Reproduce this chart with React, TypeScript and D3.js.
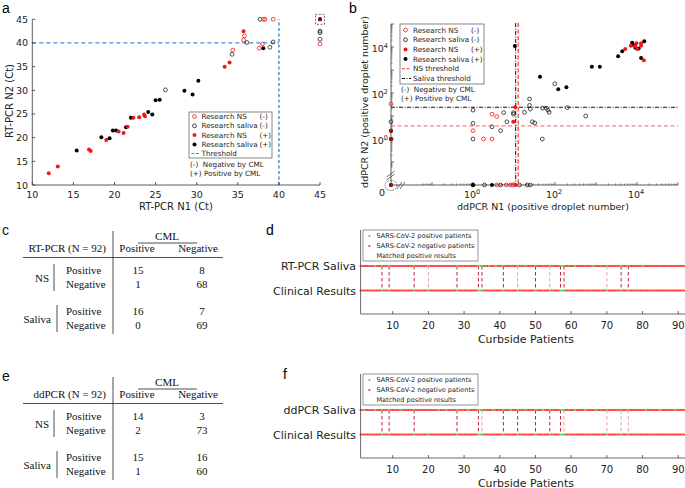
import React from 'react';
import * as d3 from 'd3';

const SANS = "'DejaVu Sans', Verdana, sans-serif";
const ARIAL = "'Liberation Sans', Arial, sans-serif";
const SERIF = "'Liberation Serif', 'Times New Roman', serif";
const RED = '#f01818';
const BLUE = '#4a90d9';

// ---------- Panel a: RT-PCR Ct values [N1, N2] ----------
const rtNsNeg: [number, number][] = [[34.4, 38.5], [35.7, 40.6], [35.8, 41.5], [37.6, 38.9], [38.0, 39.8], [38.1, 45], [38.3, 45], [39.3, 45], [45, 39.8]];
const rtSalNeg: [number, number][] = [[26.2, 30.1], [34.3, 37.6], [36.1, 40.1], [37.7, 45], [38.9, 39.1], [39.3, 40.2], [45, 40.8], [45, 42.2], [45, 42.5]];
const rtNsPos: [number, number][] = [[12.0, 12.5], [13.1, 13.9], [16.9, 17.5], [17.1, 17.2], [19.0, 19.5], [20.5, 21.3], [21.1, 21.0], [21.6, 22.3], [22.3, 24.2], [23.0, 24.3], [23.6, 24.9], [23.7, 24.5], [33.4, 35.0], [34.0, 35.9], [35.7, 42.5], [45, 45]];
const rtSalPos: [number, number][] = [[15.4, 17.3], [18.4, 20.1], [19.4, 19.9], [19.8, 21.5], [20.2, 21.5], [21.4, 22.2], [22.0, 24.2], [24.1, 25.4], [24.6, 24.9], [25.0, 27.9], [25.5, 28.0], [28.5, 29.9], [29.5, 29.1], [30.2, 32.0], [38.1, 38.9], [45, 45]];
const rtTicks = [10, 15, 20, 25, 30, 35, 40, 45];
const rtThreshold = 40;

// ---------- Panel b: ddPCR droplet numbers [N1, N2] (0 = none) ----------
const ddNsNeg: [number, number][] = [[1, 2.3], [1.8, 1], [2.9, 1], [2.9, 12], [3.8, 9.5], [0, 33], [3.8, 0], [6.5, 0], [8.2, 0], [9.4, 0]];
const ddSalNeg: [number, number][] = [[1, 18], [1, 4.8], [1, 1], [2.9, 3.4], [4.7, 2.3], [5.6, 14], [6.7, 5.6], [9.7, 14], [9.7, 12], [18, 14.5], [24, 55], [24, 29], [25, 20], [28, 5.6], [32, 5.0], [49, 1], [50, 22], [61, 22], [67, 18], [72, 14.5], [99, 253], [200, 23], [560, 10], [0, 5.6], [1, 0], [1.9, 0], [4.7, 0], [13.6, 0], [21, 0], [25, 0]];
const ddNsPos: [number, number][] = [[10.7, 24], [9.6, 5.6], [5150, 8180], [7080, 11400], [9100, 11000], [9700, 14500], [10100, 8200], [12600, 11400], [12600, 14500], [14700, 2650], [0, 2.3], [0, 1], [10.9, 0], [0, 0]];
const ddSalPos: [number, number][] = [[10.5, 11000], [43, 510], [120, 145], [190, 177], [790, 1390], [1240, 1390], [3470, 3950], [4360, 6480], [7600, 15400], [8100, 12600], [9100, 9300], [11000, 8700], [15000, 17700], [12600, 3300], [1, 0], [2.9, 0], [0, 2.3], [0, 1], [0, 0]];
const ddNsThreshold = { n1: 12.7, n2: 3.7 };
const ddSalThreshold = { n1: 11, n2: 24 };
const ddLabelExps = [0, 2, 4];

// ---------- Panels c / e: contingency tables ----------
const rtTable = { title: 'RT-PCR (N = 92)', ns: [[15, 8], [1, 68]], saliva: [[16, 7], [0, 69]] };
const ddTable = { title: 'ddPCR (N = 92)', ns: [[14, 3], [2, 73]], saliva: [[15, 16], [1, 60]] };

// ---------- Panels d / f: curbside patients ----------
const clinicalPositive = [7, 9, 16, 20, 28, 34, 35, 41, 45, 50, 54, 57, 58, 70, 74, 76];
const rtSalivaPositive = [5, 7, 9, 16, 20, 28, 34, 35, 37, 39, 41, 45, 47, 50, 54, 57, 58, 61, 66, 70, 74, 76, 80];
const ddSalivaPositive = [2, 5, 7, 9, 12, 16, 23, 25, 28, 31, 34, 35, 38, 41, 43, 45, 47, 50, 52, 54, 57, 58, 61, 64, 67, 70, 74, 76, 81, 85, 89];
const rtLightMatches = [20, 45, 54, 70];
const ddLightMatches = [35, 58, 70, 74, 76];
const patientTicks = [10, 20, 30, 40, 50, 60, 70, 80, 90];
const legendLabels = ['SARS-CoV-2 positive patients', 'SARS-CoV-2 negative patients', 'Matched positive results'];

function OpenDot({ cx, cy, color }: any) {
  return <circle cx={cx} cy={cy} r={1.9} fill="none" stroke={color} strokeWidth={0.8} />;
}
function FillDot({ cx, cy, color }: any) {
  return <circle cx={cx} cy={cy} r={2} fill={color} />;
}

function PanelA() {
  const x = d3.scaleLinear().domain([10, 45]).range([32.3, 320]);
  const y = d3.scaleLinear().domain([10, 45]).range([185, 19.3]);
  const lx = 189, ly = 112;
  const items = [
    { t: 'Research NS', s: '(-)', k: 'on', c: RED },
    { t: 'Research saliva', s: '(-)', k: 'on', c: '#111' },
    { t: 'Research NS', s: '(+)', k: 'f', c: RED },
    { t: 'Research saliva', s: '(+)', k: 'f', c: '#000' },
  ];
  return (
    <g fontFamily={SANS}>
      <text x={2} y={13} fontSize={14} fontFamily={ARIAL}>a</text>
      {/* thresholds */}
      <line x1={x(10)} x2={x(rtThreshold)} y1={y(rtThreshold)} y2={y(rtThreshold)} stroke={BLUE} strokeWidth={1.2} strokeDasharray="4,3" />
      <line x1={x(rtThreshold)} x2={x(rtThreshold)} y1={y(10)} y2={y(45)} stroke={BLUE} strokeWidth={1.5} strokeDasharray="3,2.5" />
      {/* axes */}
      <line x1={x(10)} x2={x(45)} y1={y(10)} y2={y(10)} stroke="#333" strokeWidth={0.8} />
      <line x1={x(10)} x2={x(10)} y1={y(10)} y2={y(45)} stroke="#333" strokeWidth={0.8} />
      {rtTicks.map(t => (
        <g key={'x' + t}>
          <line x1={x(t)} x2={x(t)} y1={y(10)} y2={y(10) - 3} stroke="#333" strokeWidth={0.8} />
          <text x={x(t)} y={198} fontSize={9.5} textAnchor="middle" fill="#222">{t}</text>
          <line x1={x(10)} x2={x(10) + 3} y1={y(t)} y2={y(t)} stroke="#333" strokeWidth={0.8} />
          <text x={28} y={y(t) + 3.5} fontSize={9.5} textAnchor="end" fill="#222">{t}</text>
        </g>
      ))}
      <text x={176} y={210} fontSize={10} textAnchor="middle" fill="#222">RT-PCR N1 (Ct)</text>
      <text transform="translate(13,101) rotate(-90)" fontSize={10} textAnchor="middle" fill="#222">RT-PCR N2 (Ct)</text>
      {/* points */}
      {rtSalNeg.map((p, i) => <OpenDot key={'sn' + i} cx={x(p[0])} cy={y(p[1])} color="#222" />)}
      {rtNsNeg.map((p, i) => <OpenDot key={'nn' + i} cx={x(p[0])} cy={y(p[1])} color={RED} />)}
      {rtSalPos.map((p, i) => <FillDot key={'sp' + i} cx={x(p[0])} cy={y(p[1])} color="#000" />)}
      {rtNsPos.map((p, i) => <FillDot key={'np' + i} cx={x(p[0])} cy={y(p[1])} color={p[0] === 45 ? '#8a0a0a' : RED} />)}
      <rect x={x(45) - 4.5} y={y(45) - 5} width={9} height={10} fill="none" stroke="#333" strokeWidth={0.7} strokeDasharray="2,1.5" />
      {/* legend */}
      <rect x={lx} y={ly} width={83} height={46} fill="#fff" stroke="#555" strokeWidth={0.7} />
      {items.map((it, i) => (
        <g key={i}>
          {it.k === 'on'
            ? <OpenDot cx={lx + 5.5} cy={ly + 4.5 + i * 9.3} color={it.c} />
            : <FillDot cx={lx + 5.5} cy={ly + 4.5 + i * 9.3} color={it.c} />}
          <text x={lx + 12.5} y={ly + 7 + i * 9.3} fontSize={7.2} fill="#222">{it.t}</text>
          <text x={lx + 70.5} y={ly + 7 + i * 9.3} fontSize={7.2} fill="#222">{it.s}</text>
        </g>
      ))}
      <line x1={lx + 2.5} x2={lx + 10.5} y1={ly + 41.5} y2={ly + 41.5} stroke={BLUE} strokeWidth={1} strokeDasharray="3,1.5" />
      <text x={lx + 12.5} y={ly + 44} fontSize={7.2} fill="#222">Threshold</text>
      <text x={lx + 1} y={ly + 55} fontSize={7.2} fill="#222" xmlSpace="preserve">(-)  Negative by CML</text>
      <text x={lx + 1} y={ly + 63.5} fontSize={7.2} fill="#222">(+) Positive by CML</text>
    </g>
  );
}

function PanelB() {
  const x = d3.scaleLog().domain([0.01, 1e5]).range([391, 678]);
  const y = d3.scaleLog().domain([0.01, 1e5]).range([185, 24]);
  const v = (n: number) => (n <= 0 ? 0.01 : n);
  const majors = d3.range(-2, 6).map(e => Math.pow(10, e));
  const minors: number[] = [];
  d3.range(-2, 5).forEach(e => d3.range(2, 10).forEach(m => minors.push(m * Math.pow(10, e))));
  const lx = 400, ly = 24;
  const items = [
    { t: 'Research NS', s: '(-)', k: 'on', c: RED },
    { t: 'Research saliva', s: '(-)', k: 'on', c: '#111' },
    { t: 'Research NS', s: '(+)', k: 'f', c: RED },
    { t: 'Research saliva', s: '(+)', k: 'f', c: '#000' },
  ];
  const x0 = x(0.01), y0 = y(0.01);
  return (
    <g fontFamily={SANS}>
      <text x={349} y={13} fontSize={14} fontFamily={ARIAL}>b</text>
      {/* thresholds */}
      <line x1={x(ddNsThreshold.n1)} x2={x(ddNsThreshold.n1)} y1={23} y2={y0} stroke="#ff5a5a" strokeWidth={1.5} strokeDasharray="4,2.5" />
      <line x1={x0} x2={678} y1={y(ddNsThreshold.n2)} y2={y(ddNsThreshold.n2)} stroke="#ff5a5a" strokeWidth={1} strokeDasharray="4,2.5" />
      <line x1={x(ddSalThreshold.n1)} x2={x(ddSalThreshold.n1)} y1={23} y2={y0} stroke="#111" strokeWidth={1} strokeDasharray="4,1.5,1,1.5" />
      <line x1={x0} x2={678} y1={y(ddSalThreshold.n2)} y2={y(ddSalThreshold.n2)} stroke="#111" strokeWidth={1} strokeDasharray="4,1.5,1,1.5" />
      {/* axes */}
      <line x1={x0} x2={678} y1={y0} y2={y0} stroke="#333" strokeWidth={0.8} />
      <line x1={x0} x2={x0} y1={y0} y2={24} stroke="#333" strokeWidth={0.8} />
      {majors.map(m => (
        <g key={'M' + m}>
          {m > 0.01 && <line x1={x(m)} x2={x(m)} y1={y0} y2={y0 - 3} stroke="#333" strokeWidth={0.7} />}
          {m > 0.01 && <line x1={x0} x2={x0 + 3} y1={y(m)} y2={y(m)} stroke="#333" strokeWidth={0.7} />}
        </g>
      ))}
      {minors.map(m => (
        <g key={'m' + m}>
          {m > 0.05 && <line x1={x(m)} x2={x(m)} y1={y0} y2={y0 - 1.6} stroke="#333" strokeWidth={0.6} />}
          {m > 0.05 && <line x1={x0} x2={x0 + 1.6} y1={y(m)} y2={y(m)} stroke="#333" strokeWidth={0.6} />}
        </g>
      ))}
      {ddLabelExps.map(e => (
        <g key={'l' + e}>
          <text x={x(Math.pow(10, e)) - 1} y={198} fontSize={9.5} textAnchor="middle" fill="#222">10<tspan dy={-4} fontSize={6.5}>{e}</tspan></text>
          <text x={388} y={y(Math.pow(10, e)) + 4.5} fontSize={9.5} textAnchor="end" fill="#222">10<tspan dy={-4} fontSize={6.5}>{e}</tspan></text>
        </g>
      ))}
      <text x={382} y={196} fontSize={9.5} textAnchor="middle" fill="#222">0</text>
      {/* axis breaks */}
      <g stroke="#333" strokeWidth={0.7}>
        <line x1={386.5} y1={180} x2={394.5} y2={174} />
        <line x1={386.5} y1={177} x2={394.5} y2={171} />
        <line x1={397} y1={189} x2={402} y2={182} />
        <line x1={400} y1={189} x2={405} y2={182} />
      </g>
      <ellipse cx={x0} cy={y0 + 0.5} rx={6} ry={5} fill="none" stroke="#333" strokeWidth={0.7} strokeDasharray="1.5,1.2" />
      <text x={543} y={210} fontSize={9.5} textAnchor="middle" fill="#222">ddPCR N1 (positive droplet number)</text>
      <text transform="translate(368,102) rotate(-90)" fontSize={9.5} textAnchor="middle" fill="#222">ddPCR N2 (positive droplet number)</text>
      {/* points */}
      {ddSalNeg.map((p, i) => <OpenDot key={'sn' + i} cx={x(v(p[0]))} cy={y(v(p[1]))} color="#222" />)}
      {ddNsNeg.map((p, i) => <OpenDot key={'nn' + i} cx={x(v(p[0]))} cy={y(v(p[1]))} color={RED} />)}
      {ddSalPos.map((p, i) => <FillDot key={'sp' + i} cx={x(v(p[0]))} cy={y(v(p[1]))} color="#000" />)}
      {ddNsPos.map((p, i) => <FillDot key={'np' + i} cx={x(v(p[0]))} cy={y(v(p[1]))} color={p[0] === 0 ? '#a01010' : RED} />)}
      {/* legend */}
      <rect x={lx} y={ly} width={84} height={60} fill="#fff" stroke="#555" strokeWidth={0.7} />
      {items.map((it, i) => (
        <g key={i}>
          {it.k === 'on'
            ? <OpenDot cx={lx + 5.5} cy={ly + 6 + i * 9.7} color={it.c} />
            : <FillDot cx={lx + 5.5} cy={ly + 6 + i * 9.7} color={it.c} />}
          <text x={lx + 13} y={ly + 8.5 + i * 9.7} fontSize={7.2} fill="#222">{it.t}</text>
          <text x={lx + 71} y={ly + 8.5 + i * 9.7} fontSize={7.2} fill="#222">{it.s}</text>
        </g>
      ))}
      <line x1={lx + 2} x2={lx + 11} y1={ly + 44.8} y2={ly + 44.8} stroke="#ff3030" strokeWidth={1} strokeDasharray="3,1.5" />
      <text x={lx + 13} y={ly + 47.3} fontSize={7.2} fill="#222">NS threshold</text>
      <line x1={lx + 2} x2={lx + 11} y1={ly + 54.5} y2={ly + 54.5} stroke="#111" strokeWidth={1} strokeDasharray="3,1.5,1,1.5" />
      <text x={lx + 13} y={ly + 57} fontSize={7.2} fill="#222">Saliva threshold</text>
      <text x={lx + 1} y={ly + 68} fontSize={7.2} fill="#222" xmlSpace="preserve">(-)  Negative by CML</text>
      <text x={lx + 1} y={ly + 77} fontSize={7.2} fill="#222">(+) Positive by CML</text>
    </g>
  );
}

function Table({ letter, top, data }: any) {
  // top = baseline of header row
  const fs = 11;
  const rowLbl = (y: number, key: string) => (
    <g key={key}>
      <text x={66} y={y} fontSize={fs}>Positive</text>
      <text x={66} y={y + 13.5} fontSize={fs}>Negative</text>
    </g>
  );
  const vals = (rows: number[][], y: number) => rows.map((r, i) => (
    <g key={i}>
      <text x={138} y={y + i * 13.5} fontSize={fs} textAnchor="middle">{r[0]}</text>
      <text x={202} y={y + i * 13.5} fontSize={fs} textAnchor="middle">{r[1]}</text>
    </g>
  ));
  const nsY = top + 22, salY = top + 63;
  return (
    <g fontFamily={SERIF} fill="#111">
      <text x={2} y={top - 17} fontSize={14} fontFamily={ARIAL}>{letter}</text>
      <text x={167} y={top - 12} fontSize={fs} textAnchor="middle">CML</text>
      <line x1={138} x2={197} y1={top - 9} y2={top - 9} stroke="#222" strokeWidth={0.8} />
      <text x={106} y={top} fontSize={fs} textAnchor="end">{data.title}</text>
      <text x={137} y={top} fontSize={fs} textAnchor="middle">Positive</text>
      <text x={198} y={top} fontSize={fs} textAnchor="middle">Negative</text>
      <line x1={113} x2={113} y1={top - 21} y2={salY + 19} stroke="#222" strokeWidth={0.8} />
      <line x1={23} x2={223} y1={top + 5.5} y2={top + 5.5} stroke="#222" strokeWidth={0.8} />
      <text x={49} y={nsY + 8} fontSize={fs} textAnchor="end">NS</text>
      <line x1={54} x2={54} y1={nsY - 10} y2={nsY + 17} stroke="#222" strokeWidth={0.8} />
      {rowLbl(nsY, 'ns')}
      {vals(data.ns, nsY)}
      <text x={51} y={salY + 8} fontSize={fs} textAnchor="end">Saliva</text>
      <line x1={57} x2={57} y1={salY - 10} y2={salY + 17} stroke="#222" strokeWidth={0.8} />
      {rowLbl(salY, 'sal')}
      {vals(data.saliva, salY)}
    </g>
  );
}

function Timeline({ letter, letterX, label, rowTop, salivaPos, light }: any) {
  const x = d3.scaleLinear().domain([1, 92]).range([360.6, 685.4]);
  const rowBot = rowTop + 24.5;
  const axisY = rowTop + 48;
  const legendTop = rowTop - 36;
  const patients = d3.range(1, 93);
  const matched = clinicalPositive.filter(p => salivaPos.includes(p));
  const GREEN = '#62c43c', MRED = '#ff2d2d';
  const row = (y: number, pos: number[]) => patients.map(p => (
    <rect key={p} x={x(p) - 0.9} y={y - 0.9} width={1.8} height={1.8} fill={pos.includes(p) ? GREEN : MRED} />
  ));
  const rowDots = (y: number, pos: number[]) => patients.slice(0, -1).map(p => (
    <rect key={'h' + p} x={(x(p) + x(p + 1)) / 2 - 0.9} y={y - 0.9} width={1.8} height={1.8} fill={pos.includes(p) && pos.includes(p + 1) ? GREEN : MRED} />
  ));
  return (
    <g fontFamily={SANS}>
      <text x={letterX} y={legendTop + 5} fontSize={14} fontFamily={ARIAL}>{letter}</text>
      {matched.map(p => (
        <line key={'m' + p} x1={x(p)} x2={x(p)} y1={rowTop} y2={rowBot} stroke={light.includes(p) ? '#e4a3b0' : '#c4203c'} strokeWidth={1} strokeDasharray="3.5,2.5" />
      ))}
      <g>{rowDots(rowTop, salivaPos)}{row(rowTop, salivaPos)}</g>
      <g>{rowDots(rowBot, clinicalPositive)}{row(rowBot, clinicalPositive)}</g>
      <line x1={360.6} x2={360.6} y1={legendTop} y2={axisY} stroke="#444" strokeWidth={0.8} />
      <line x1={360.6} x2={685} y1={axisY} y2={axisY} stroke="#444" strokeWidth={0.8} />
      {patientTicks.map(t => (
        <g key={t}>
          <line x1={x(t)} x2={x(t)} y1={axisY} y2={axisY - 3} stroke="#444" strokeWidth={0.8} />
          <text x={x(t)} y={axisY + 15} fontSize={10} textAnchor="middle" fill="#222">{t}</text>
        </g>
      ))}
      <text x={526} y={axisY + 28.5} fontSize={11} textAnchor="middle" fill="#222">Curbside Patients</text>
      <text x={356} y={rowTop + 4} fontSize={11} textAnchor="end" fill="#222">{label}</text>
      <text x={356} y={rowBot + 4} fontSize={11} textAnchor="end" fill="#222">Clinical Results</text>
      <rect x={363} y={legendTop} width={115} height={31} fill="#fff" stroke="#666" strokeWidth={0.7} />
      <rect x={368.5} y={legendTop + 5} width={1.8} height={1.8} fill={GREEN} />
      <rect x={368.5} y={legendTop + 15} width={1.8} height={1.8} fill={MRED} />
      {legendLabels.map((t, i) => (
        <text key={t} x={376.5} y={legendTop + 8.3 + i * 10} fontSize={6.5} fill="#222">{t}</text>
      ))}
    </g>
  );
}

export default function App() {
  return (
    <div style={{ position: 'absolute', left: 0, top: 0, width: 685, height: 488, background: '#fff' }}>
      <svg width={685} height={488} viewBox="0 0 685 488" style={{ display: 'block' }}>
        <rect width={685} height={488} fill="#fff" />
        <PanelA />
        <PanelB />
        <Table letter="c" top={252} data={rtTable} />
        <Table letter="e" top={398} data={ddTable} />
        <Timeline letter="d" letterX={266} label="RT-PCR Saliva" rowTop={266} salivaPos={rtSalivaPositive} light={rtLightMatches} />
        <Timeline letter="f" letterX={283} label="ddPCR Saliva" rowTop={410} salivaPos={ddSalivaPositive} light={ddLightMatches} />
      </svg>
    </div>
  );
}
